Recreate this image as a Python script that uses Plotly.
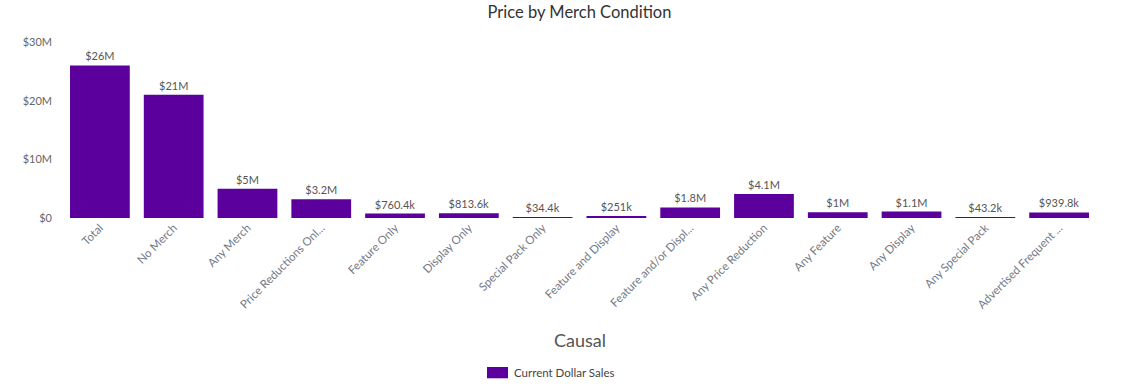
import plotly.graph_objects as go

categories = ["Total", "No Merch", "Any Merch", "Price Reductions Onl...", "Feature Only",
              "Display Only", "Special Pack Only", "Feature and Display",
              "Feature and/or Displ...", "Any Price Reduction", "Any Feature",
              "Any Display", "Any Special Pack", "Advertised Frequent ..."]
sales = [26.0e6, 21.0e6, 5.0e6, 3.2e6, 760.4e3, 813.6e3, 34.4e3, 251e3,
         1.8e6, 4.1e6, 1.0e6, 1.1e6, 43.2e3, 939.8e3]
bar_labels = ["$26M", "$21M", "$5M", "$3.2M", "$760.4k", "$813.6k", "$34.4k", "$251k",
              "$1.8M", "$4.1M", "$1M", "$1.1M", "$43.2k", "$939.8k"]
y_ticks = [0, 10e6, 20e6, 30e6]
y_tick_labels = ["$0", "$10M", "$20M", "$30M"]
series_name = "Current Dollar Sales"

font_family = "Lato, 'Open Sans', sans-serif"
bar_color = "#5B009C"

fig = go.Figure()
fig.add_trace(go.Bar(
    x=categories, y=sales, name=series_name,
    marker=dict(color=bar_color, line=dict(width=0)),
    text=bar_labels, textposition="outside", cliponaxis=False,
    textfont=dict(family=font_family, size=11, color="#555555"),
    hoverinfo="x+y", showlegend=False,
))

# plot area (page px): x 63..1096, y 42..218
W, H = 1136, 391
L, R, T, B = 63, 40, 42, 173
pw, ph = W - L - R, H - T - B


def px_x(x):
    return (x - L) / pw


def px_y(y):
    return (H - B - y) / ph


fig.update_layout(
    width=W, height=H,
    paper_bgcolor="white", plot_bgcolor="white",
    margin=dict(l=L, r=R, t=T, b=B, autoexpand=False),
    bargap=0.19,
    font=dict(family=font_family, color="#666666"),
    title=dict(text="Price by Merch Condition", x=0.5, xref="paper", xanchor="center",
               y=(H - 12.5) / H, yref="container", yanchor="middle",
               font=dict(size=16.5, color="#333333")),
    showlegend=False,
    xaxis=dict(showgrid=False, showline=False, zeroline=False, ticks="",
               tickangle=-45, automargin=False,
               tickfont=dict(size=11.5, color="#737884")),
    yaxis=dict(range=[0, 30e6], showgrid=False, showline=False, zeroline=False,
               tickvals=y_ticks, ticktext=y_tick_labels, automargin=False,
               ticks="", ticklabelstandoff=10,
               tickfont=dict(size=11, color="#666666")),
    shapes=[dict(type="rect", xref="paper", yref="paper",
                 x0=px_x(487), x1=px_x(508), y0=px_y(367), y1=px_y(378.3),
                 fillcolor=bar_color, line=dict(width=0))],
    annotations=[
        dict(text="Causal", x=0.5, y=px_y(340), xref="paper", yref="paper",
             showarrow=False, xanchor="center", yanchor="middle",
             font=dict(size=18, color="#555555")),
        dict(text=series_name, x=px_x(512), y=px_y(372.5), xref="paper", yref="paper",
             showarrow=False, xanchor="left", yanchor="middle",
             font=dict(size=11.5, color="#444444")),
    ],
)

fig.write_html("out.html", config={"displayModeBar": False},
               post_script="document.body.style.margin='0';document.body.style.padding='0';")
